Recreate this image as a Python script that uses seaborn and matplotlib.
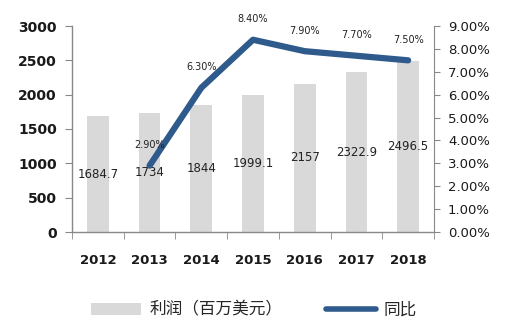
import matplotlib
matplotlib.use("Agg")
import matplotlib.pyplot as plt
import seaborn as sns
import pandas as pd
import numpy as np
from matplotlib.patches import Patch
from matplotlib.lines import Line2D

years = ["2012", "2013", "2014", "2015", "2016", "2017", "2018"]
profit = [1684.7, 1734, 1844, 1999.1, 2157, 2322.9, 2496.5]
growth = [np.nan, 2.90, 6.30, 8.40, 7.90, 7.70, 7.50]
profit_labels = ["1684.7", "1734", "1844", "1999.1", "2157", "2322.9", "2496.5"]
growth_labels = ["", "2.90%", "6.30%", "8.40%", "7.90%", "7.70%", "7.50%"]
left_ticks = [0, 500, 1000, 1500, 2000, 2500, 3000]
right_ticks = [0, 1, 2, 3, 4, 5, 6, 7, 8, 9]

sns.set_style("white")
plt.rcParams['font.family'] = ['DejaVu Sans', 'Noto Sans CJK SC']

df = pd.DataFrame({"year": years, "profit": profit, "growth": growth, "x": range(len(years))})

fig = plt.figure(figsize=(5.08, 3.29), dpi=100)
ax = fig.add_axes([72/508, 1 - 232/329, (434-72)/508, (232-26)/329])

bar_color = "#D9D9D9"
line_color = "#2F5A8C"
sns.barplot(data=df, x="year", y="profit", color=bar_color, width=0.42, ax=ax,
            saturation=1, edgecolor="none")
ax.set_ylim(0, 3000)
ax.set_xlim(-0.5, len(years) - 0.5)
ax.set_yticks(left_ticks)
ax.set_yticklabels([str(t) for t in left_ticks], fontsize=10, fontweight="bold", color="#1a1a1a")
ax.set_xticks(range(len(years)))
ax.set_xticklabels(years, fontsize=9.5, fontweight="bold", color="#1a1a1a")
ax.set_xticks(np.arange(-0.5, len(years), 1.0), minor=True)
ax.tick_params(axis="x", which="major", length=0, pad=16)
ax.tick_params(axis="x", which="minor", length=5, color="#888888", direction="out", bottom=True)
ax.tick_params(axis="y", length=5, color="#888888", direction="out", left=True, pad=6)
ax.set_xlabel("")
ax.set_ylabel("")
for s in ["top", "right"]:
    ax.spines[s].set_visible(False)
for s in ["left", "bottom"]:
    ax.spines[s].set_color("#888888")
    ax.spines[s].set_linewidth(1)

for i, (v, lab) in enumerate(zip(profit, profit_labels)):
    ax.text(i, v / 2, lab, ha="center", va="center", fontsize=8.5, color="#222222")

ax2 = ax.twinx()
sns.lineplot(data=df.dropna(), x="x", y="growth", color=line_color, linewidth=4.5,
             ax=ax2, solid_capstyle="round", solid_joinstyle="round")
ax2.set_ylim(0, 9)
ax2.set_xlim(-0.5, len(years) - 0.5)
ax2.set_yticks(right_ticks)
ax2.set_yticklabels([f"{t:.2f}%" for t in right_ticks], fontsize=9.5, color="#1a1a1a")
ax2.tick_params(axis="y", length=4, color="#888888", direction="out", right=True, pad=6)
ax2.set_xlabel("")
ax2.set_ylabel("")
for s in ["top", "left", "bottom"]:
    ax2.spines[s].set_visible(False)
ax2.spines["right"].set_color("#888888")

for i, (v, lab) in enumerate(zip(growth, growth_labels)):
    if lab:
        ax2.text(i, v + 0.9, lab, ha="center", va="center", fontsize=7, color="#222222")

handles = [Patch(facecolor=bar_color, edgecolor="none"),
           Line2D([0], [0], color=line_color, linewidth=4)]
fig.legend(handles, ["利润（百万美元）", "同比"], loc="center", bbox_to_anchor=(0.5, 1 - 310/329),
           ncol=2, frameon=False, handlelength=3.0, columnspacing=2.6, handletextpad=0.5,
           prop={"family": ["Noto Sans CJK SC", "DejaVu Sans"], "size": 12})

fig.savefig("out.png", dpi=100)
